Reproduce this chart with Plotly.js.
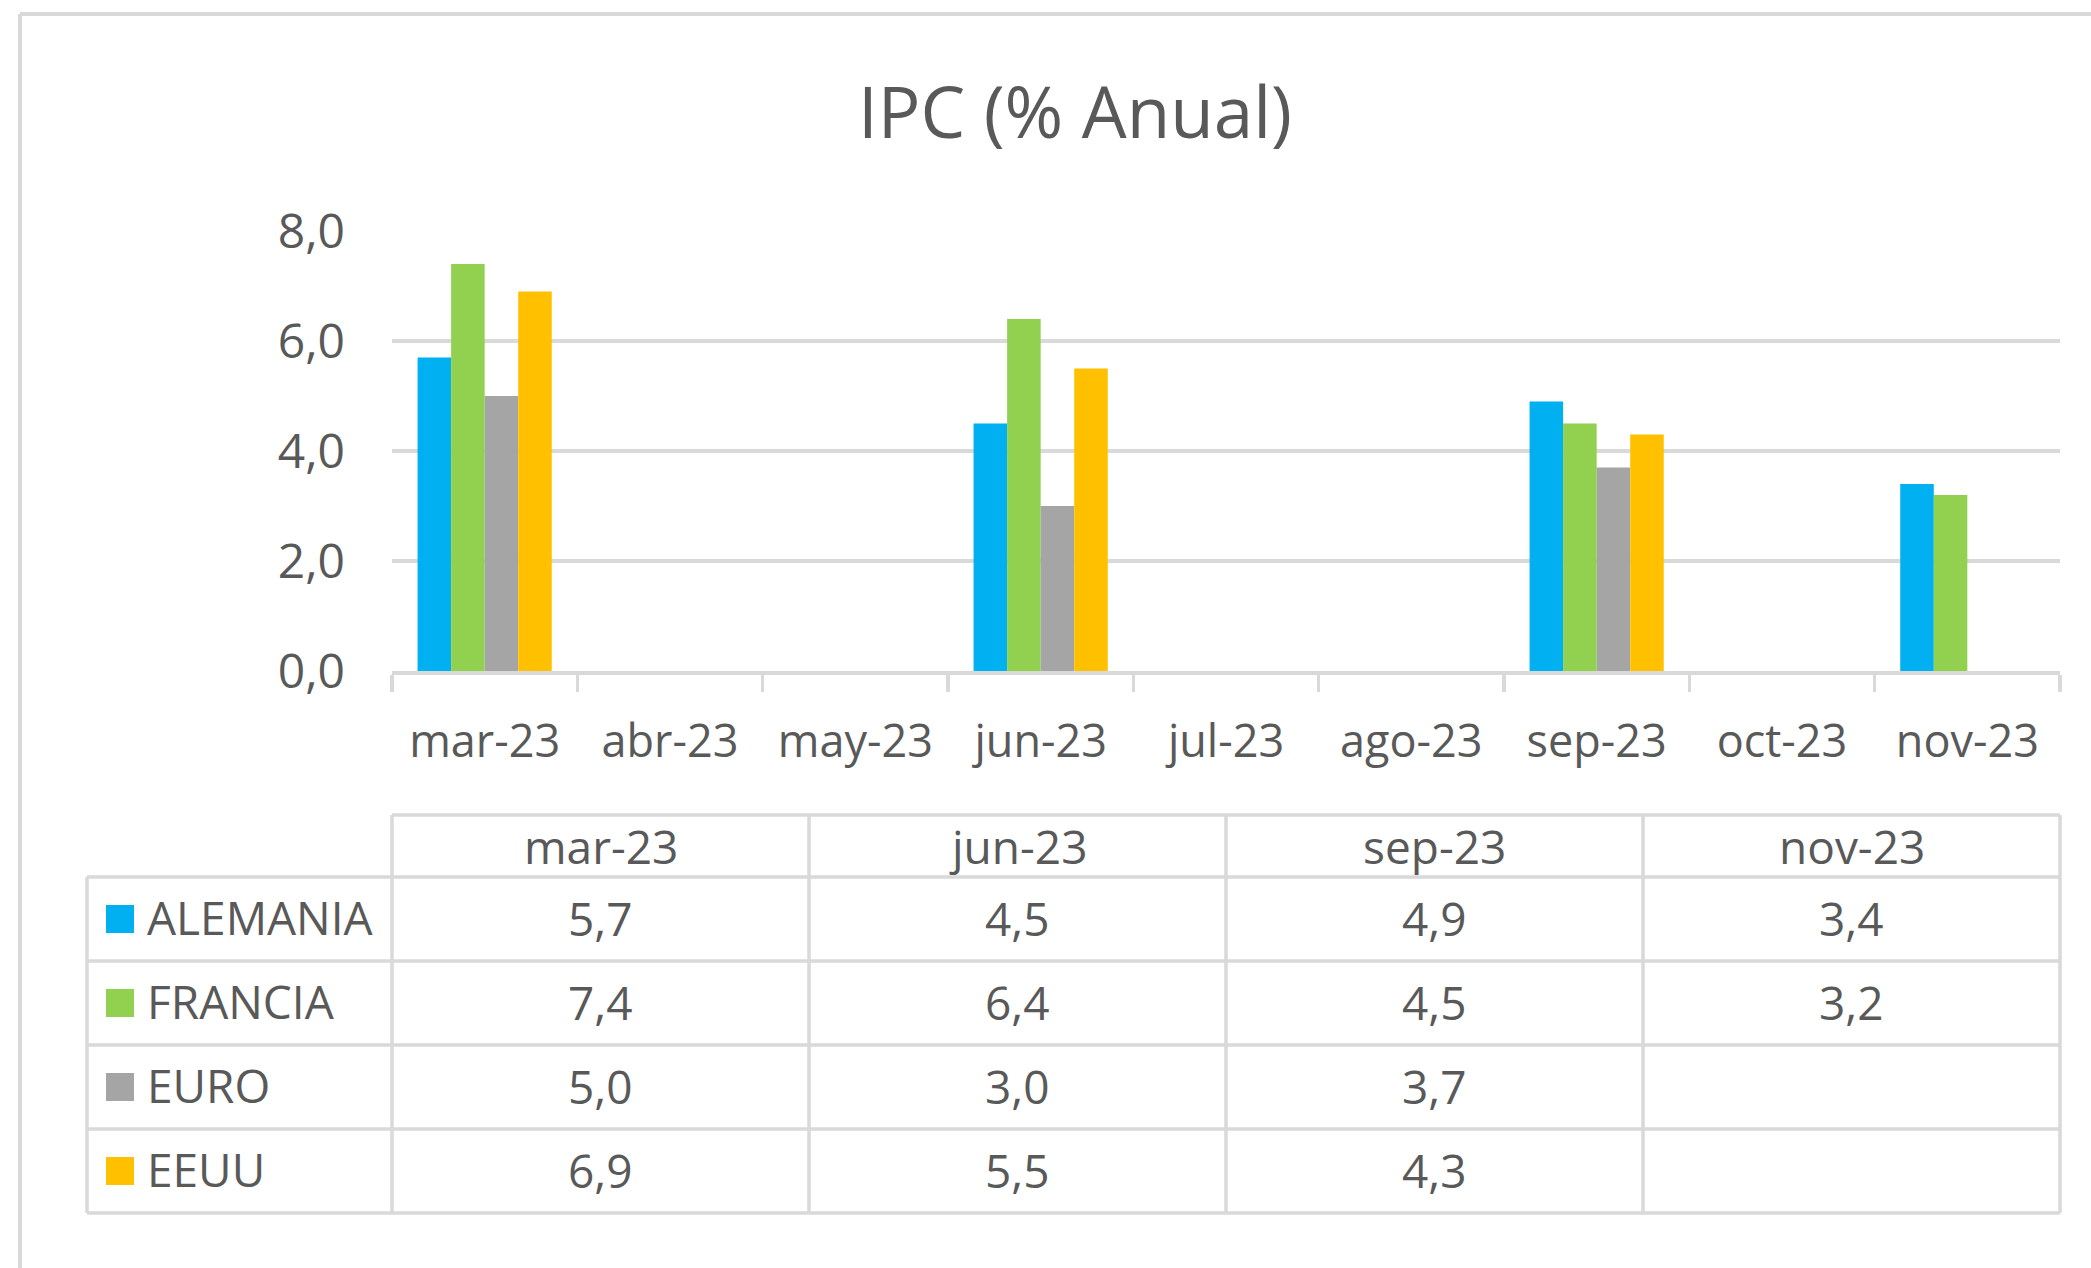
<!DOCTYPE html>
<html><head><meta charset="utf-8">
<script src="https://cdn.plot.ly/plotly-3.0.1.min.js"></script>
<style>html,body{margin:0;padding:0;background:#fff;}#chart{width:2091px;height:1268px;}</style>
</head><body><div id="chart"></div>
<script>
// ---- data ----
const months = ['mar-23','abr-23','may-23','jun-23','jul-23','ago-23','sep-23','oct-23','nov-23'];
const seriesNames = ['ALEMANIA','FRANCIA','EURO','EEUU'];
const seriesColors = ['#00B0F0','#92D050','#A5A5A5','#FFC000'];
const alemania = [5.7, null, null, 4.5, null, null, 4.9, null, 3.4];
const francia  = [7.4, null, null, 6.4, null, null, 4.5, null, 3.2];
const euro     = [5.0, null, null, 3.0, null, null, 3.7, null, null];
const eeuu     = [6.9, null, null, 5.5, null, null, 4.3, null, null];
const yTicks = [0, 2, 4, 6, 8];
const chartTitle = 'IPC (% Anual)';

// ---- layout geometry (pixels) ----
const W = 2091, H = 1268;
const L = 392, R = 2060, T = 231, B = 671;
const FONT = '"Open Sans", "Noto Sans", sans-serif';
const TXT = '#595959';
const GRID = '#d9d9d9';
const px = x => (x - L) / (R - L);
const py = y => (B - y) / (B - T);

const seriesValues = [alemania, francia, euro, eeuu];

const traces = seriesNames.map((name, i) => ({
  type: 'bar', name: name, x: months, y: seriesValues[i],
  marker: {color: seriesColors[i], line: {width: 0}},
  hoverinfo: 'x+y+name'
}));

// table columns = months that have any data
const tableCols = [];
months.forEach((m, j) => { if (seriesValues.some(s => s[j] !== null)) tableCols.push(j); });

const fmt = v => (v === null || v === undefined) ? '' : v.toFixed(1).replace('.', ',');

const shapes = [];
const annotations = [];
const line = (x0, y0, x1, y1, w, c) => shapes.push({type: 'line', xref: 'paper', yref: 'paper',
  x0: px(x0), y0: py(y0), x1: px(x1), y1: py(y1), line: {color: c || GRID, width: w || 3.5}, layer: 'above'});

// outer frame (left + top)
line(20, 14, 20, H + 10, 4);
line(20, 14, W + 10, 14, 4);

// table geometry
const tLeft = 87, tFirst = L, tRight = R;
const headTop = 815, headBot = 877, rowH = 84;
const nRows = seriesNames.length;
const colW = (tRight - tFirst) / tableCols.length;
const tBottom = headBot + nRows * rowH;

line(tFirst, headTop, tRight, headTop);
for (let r = 0; r <= nRows; r++) line(tLeft, headBot + r * rowH, tRight, headBot + r * rowH);
line(tLeft, headBot, tLeft, tBottom);
for (let c = 0; c <= tableCols.length; c++) line(tFirst + c * colW, headTop, tFirst + c * colW, tBottom);

const tf = {family: FONT, size: 46, color: TXT};
tableCols.forEach((j, c) => {
  annotations.push({xref: 'paper', yref: 'paper', x: px(tFirst + (c + 0.5) * colW), y: py((headTop + headBot) / 2),
    text: months[j], showarrow: false, xanchor: 'center', yanchor: 'middle', font: tf});
});
seriesNames.forEach((name, r) => {
  const cy = headBot + (r + 0.5) * rowH;
  shapes.push({type: 'rect', xref: 'paper', yref: 'paper', x0: px(106), x1: px(134), y0: py(cy - 14), y1: py(cy + 14),
    fillcolor: seriesColors[r], line: {width: 0}, layer: 'above'});
  annotations.push({xref: 'paper', yref: 'paper', x: px(145), y: py(cy - 2), text: name, showarrow: false,
    xanchor: 'left', yanchor: 'middle', font: tf});
  tableCols.forEach((j, c) => {
    annotations.push({xref: 'paper', yref: 'paper', x: px(tFirst + (c + 0.5) * colW), y: py(cy - 1),
      text: fmt(seriesValues[r][j]), showarrow: false, xanchor: 'center', yanchor: 'middle', font: tf});
  });
});

const layout = {
  width: W, height: H,
  margin: {l: L, r: W - R, t: T, b: H - B, pad: 0},
  paper_bgcolor: '#ffffff', plot_bgcolor: '#ffffff',
  separators: ',.',
  showlegend: false,
  barmode: 'group', bargap: 0.276, bargroupgap: 0,
  title: {text: chartTitle, font: {family: FONT, size: 71, color: TXT},
    xref: 'container', yref: 'container', x: 1075 / W, y: 1 - 113 / H, xanchor: 'center', yanchor: 'middle'},
  xaxis: {type: 'category', range: [-0.5, months.length - 0.5], tickson: 'boundaries',
    ticks: 'outside', ticklen: 17, tickwidth: 3.5, tickcolor: GRID,
    showline: true, linecolor: GRID, linewidth: 3.5, showgrid: false, zeroline: false,
    tickfont: {family: FONT, size: 45, color: TXT}, ticklabelstandoff: 28, fixedrange: true},
  yaxis: {range: [0, 8], tickvals: yTicks, tickformat: '.1f', showgrid: true, gridcolor: GRID, gridwidth: 4,
    zeroline: false, showline: false, ticks: '', tickfont: {family: FONT, size: 48, color: TXT},
    ticklabelstandoff: 46, fixedrange: true},
  shapes: shapes, annotations: annotations
};

Plotly.newPlot('chart', traces, layout, {displayModeBar: false, staticPlot: true});
</script></body></html>
